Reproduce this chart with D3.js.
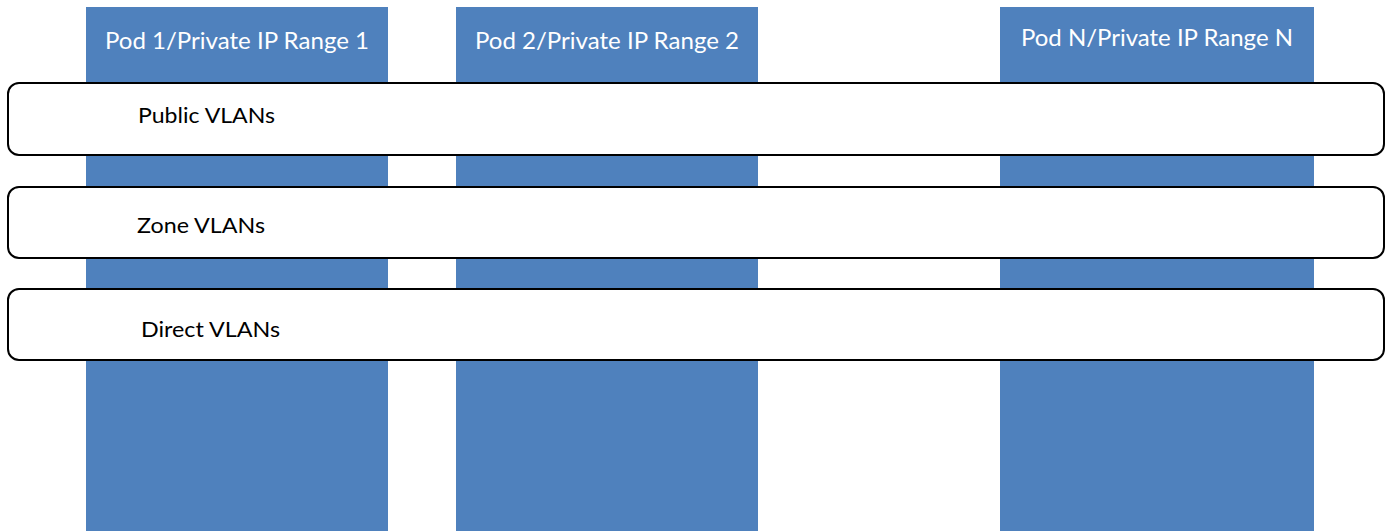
<!DOCTYPE html>
<html>
<head>
<meta charset="utf-8">
<script src="https://cdn.jsdelivr.net/npm/d3@7"></script>
<style>
  html, body { margin: 0; padding: 0; background: #fff; }
  svg { display: block; }
</style>
</head>
<body>
<div id="chart"></div>
<script>
// pods (columns) and VLAN bands (rows)
const podLabels = ['Pod 1/Private IP Range 1', 'Pod 2/Private IP Range 2', 'Pod N/Private IP Range N'];
const bandLabels = ['Public VLANs', 'Zone VLANs', 'Direct VLANs'];

// layout (pixels)
const width = 1391, height = 531;
const podX = [[86, 388], [456, 758], [1000, 1314]];
const podTop = 7;
const podTextY = [49, 49, 46];
const podTextW = [264, 264, 272];
const bandY = [[83, 155], [187, 258], [289, 360]];
const bandX = [8, 1384];
const bandTextX = [138, 137, 141];
const bandTextY = [123, 233, 337];
const bandTextW = [137, 128, 139];

const blue = '#4F81BD';
const font = 'Lato, "Open Sans", sans-serif';

const svg = d3.select('#chart').append('svg')
  .attr('width', width)
  .attr('height', height);

// pod columns
const pods = svg.append('g').selectAll('g')
  .data(podLabels)
  .join('g');

pods.append('rect')
  .attr('x', (d, i) => podX[i][0])
  .attr('y', podTop)
  .attr('width', (d, i) => podX[i][1] - podX[i][0])
  .attr('height', height - podTop)
  .attr('fill', blue);

pods.append('text')
  .attr('x', (d, i) => (podX[i][0] + podX[i][1]) / 2)
  .attr('y', (d, i) => podTextY[i])
  .attr('text-anchor', 'middle')
  .attr('fill', '#fff')
  .attr('font-family', font)
  .attr('font-size', 23)
  .attr('textLength', (d, i) => podTextW[i])
  .attr('lengthAdjust', 'spacingAndGlyphs')
  .text(d => d);

// VLAN bands
const bands = svg.append('g').selectAll('g')
  .data(bandLabels)
  .join('g');

bands.append('rect')
  .attr('x', bandX[0])
  .attr('y', (d, i) => bandY[i][0])
  .attr('width', bandX[1] - bandX[0])
  .attr('height', (d, i) => bandY[i][1] - bandY[i][0])
  .attr('rx', 11)
  .attr('ry', 11)
  .attr('fill', '#fff')
  .attr('stroke', '#000')
  .attr('stroke-width', 2);

bands.append('text')
  .attr('x', (d, i) => bandTextX[i])
  .attr('y', (d, i) => bandTextY[i])
  .attr('fill', '#000')
  .attr('font-family', font)
  .attr('font-size', 21)
  .attr('textLength', (d, i) => bandTextW[i])
  .attr('lengthAdjust', 'spacingAndGlyphs')
  .text(d => d);
</script>
</body>
</html>
